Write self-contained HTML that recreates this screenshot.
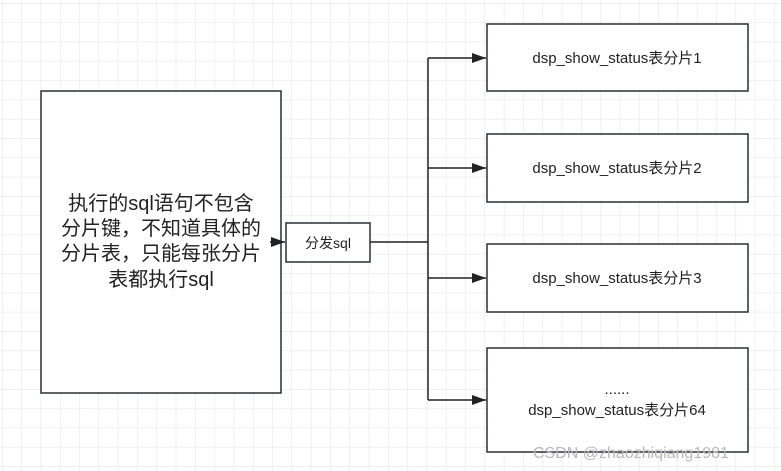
<!DOCTYPE html>
<html><head><meta charset="utf-8"><style>
body{margin:0;width:781px;height:471px;overflow:hidden;background:#fff;}
svg{display:block}
text{font-family:"Liberation Sans","Noto Sans CJK SC",sans-serif;fill:#222}
</style></head><body>
<svg width="781" height="471" xmlns="http://www.w3.org/2000/svg">
<defs>
<pattern id="g" x="2" y="3" width="19.3" height="19.3" patternUnits="userSpaceOnUse">
<path d="M0 0H19.3M0 0V19.3" stroke="#e6e6e6" stroke-width="1.2" fill="none"/>
</pattern>
<marker id="a" markerWidth="14" markerHeight="10" refX="14" refY="5" orient="auto" markerUnits="userSpaceOnUse">
<path d="M0 0L14 5L0 10z" fill="#222"/>
</marker>
</defs>
<rect width="781" height="471" fill="url(#g)"/>
<g stroke="#2a2f33" stroke-width="1.5" fill="#fff">
<rect x="41" y="91" width="240" height="302"/>
<rect x="286" y="223" width="84" height="39"/>
<rect x="487" y="24" width="261" height="67"/>
<rect x="487" y="134" width="261" height="68"/>
<rect x="487" y="244" width="261" height="68"/>
<rect x="487" y="348" width="261" height="104"/>
</g>
<g stroke="#222" stroke-width="1.5" fill="none">
<line x1="270" y1="242" x2="285" y2="242" marker-end="url(#a)"/>
<line x1="370" y1="242" x2="428" y2="242"/>
<line x1="428" y1="58" x2="428" y2="400"/>
<line x1="428" y1="58" x2="486" y2="58" marker-end="url(#a)"/>
<line x1="428" y1="168" x2="486" y2="168" marker-end="url(#a)"/>
<line x1="428" y1="278" x2="486" y2="278" marker-end="url(#a)"/>
<line x1="428" y1="400" x2="486" y2="400" marker-end="url(#a)"/>
</g>
<g font-size="20" text-anchor="middle">
<text x="161" y="210">执行的sql语句不包含</text>
<text x="161" y="235">分片键，不知道具体的</text>
<text x="161" y="260">分片表，只能每张分片</text>
<text x="161" y="286">表都执行sql</text>
</g>
<text x="328" y="248" font-size="14" text-anchor="middle">分发sql</text>
<g font-size="15" text-anchor="middle">
<text x="617" y="63">dsp_show_status表分片1</text>
<text x="617" y="173">dsp_show_status表分片2</text>
<text x="617" y="283">dsp_show_status表分片3</text>
<text x="617" y="394">......</text>
<text x="617" y="415">dsp_show_status表分片64</text>
</g>
<text x="533" y="458" font-size="16" style="fill:#b8b8b8">CSDN @zhaozhiqiang1981</text>
</svg>
</body></html>
